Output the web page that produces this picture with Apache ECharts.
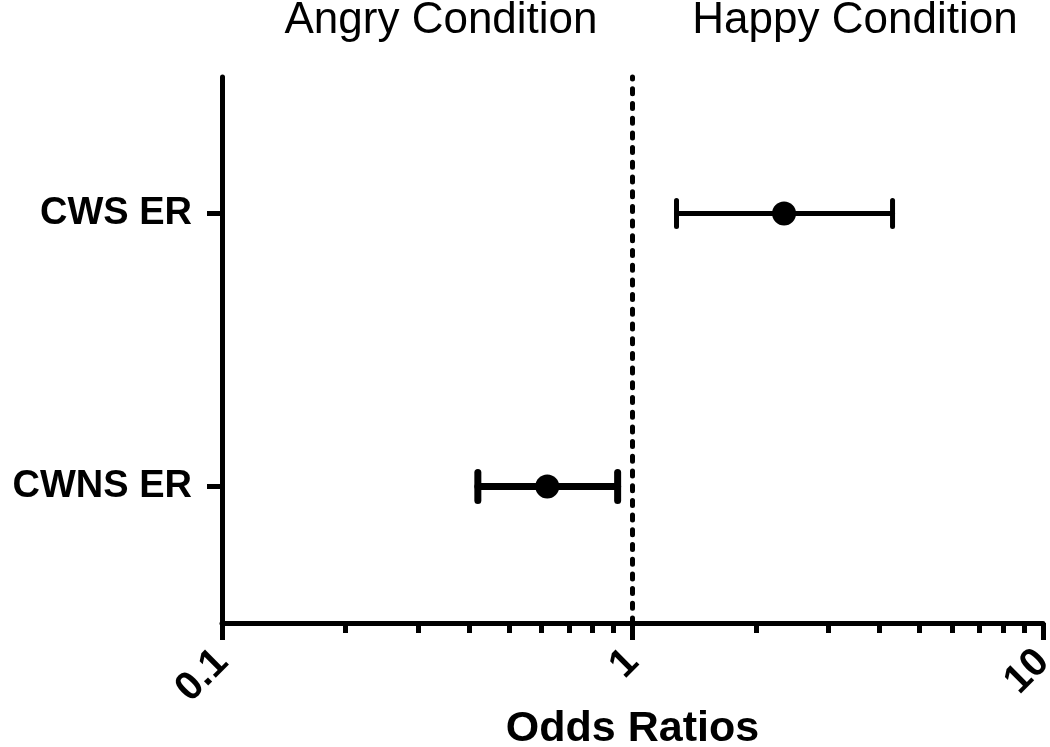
<!DOCTYPE html>
<html>
<head>
<meta charset="utf-8">
<script src="https://cdn.jsdelivr.net/npm/echarts@6/dist/echarts.min.js"></script>
<style>
  html, body { margin: 0; padding: 0; background: #fff; }
  #chart { width: 1050px; height: 747px; }
</style>
</head>
<body>
<div id="chart"></div>
<script>
var chart = echarts.init(document.getElementById('chart'));

// rows, bottom to top
var categories = ['CWNS ER', 'CWS ER'];
var rowPos = [1, 3];
var oddsRatio = [0.62, 2.34];
var ciLow = [0.42, 1.28];
var ciHigh = [0.92, 4.3];
var xTickLabels = ['0.1', '1', '10'];
var regionTitles = ['Angry Condition', 'Happy Condition'];

// whisker thickness per row (CWNS drawn heavier in the original)
var whiskerWidth = [7, 5];
var capHalf = [14, 13];

var FONT = '"Liberation Sans", Arial, sans-serif';

var bars = rowPos.map(function (y, i) {
    return [ciLow[i], ciHigh[i], y, i];
});
var points = rowPos.map(function (y, i) {
    return [oddsRatio[i], y];
});

option = {
    animation: false,
    backgroundColor: '#fff',
    textStyle: { fontFamily: FONT },
    graphic: [
        {
            type: 'text', x: 441, y: 21,
            style: { text: regionTitles[0], font: '44px ' + FONT, fill: '#000', textAlign: 'center', textVerticalAlign: 'middle' }
        },
        {
            type: 'text', x: 855, y: 21,
            style: { text: regionTitles[1], font: '44px ' + FONT, fill: '#000', textAlign: 'center', textVerticalAlign: 'middle' }
        }
    ],
    grid: { left: 222, right: 7, top: 77, bottom: 124, outerBoundsMode: 'none' },
    xAxis: {
        type: 'log',
        logBase: 10,
        min: 0.1,
        max: 10,
        splitLine: { show: false },
        axisLine: { lineStyle: { color: '#000', width: 5 } },
        axisTick: { length: 17, lineStyle: { color: '#000', width: 5 } },
        minorTick: { show: true, splitNumber: 9, length: 10, lineStyle: { color: '#000', width: 5 } },
        axisLabel: {
            rotate: 45,
            margin: 33,
            color: '#000',
            fontSize: 40,
            fontWeight: 'bold',
            fontFamily: FONT,
            formatter: function (v) {
                var k = Math.round(Math.log10(v)) + 1;
                return xTickLabels[k] || '';
            }
        },
        name: 'Odds Ratios',
        nameLocation: 'middle',
        nameGap: 85,
        nameMoveOverlap: false,
        nameTextStyle: { color: '#000', fontSize: 43, fontWeight: 'bold', fontFamily: FONT }
    },
    yAxis: {
        type: 'value',
        min: 0,
        max: 4,
        splitLine: { show: false },
        axisLine: { show: true, lineStyle: { color: '#000', width: 5 } },
        axisTick: { show: true, length: 15, customValues: rowPos, lineStyle: { color: '#000', width: 5 } },
        axisLabel: {
            customValues: rowPos,
            margin: 30,
            color: '#000',
            fontSize: 38,
            fontWeight: 'bold',
            fontFamily: FONT,
            formatter: function (v) {
                var i = rowPos.indexOf(v);
                return i >= 0 ? categories[i] : '';
            }
        }
    },
    series: [
        {
            type: 'custom',
            data: bars,
            encode: { x: [0, 1], y: 2 },
            renderItem: function (params, api) {
                var y = api.value(2);
                var i = api.value(3);
                var a = api.coord([api.value(0), y]);
                var b = api.coord([api.value(1), y]);
                var w = whiskerWidth[i];
                var h = capHalf[i];
                var st = { stroke: '#000', lineWidth: w, lineCap: 'round' };
                return {
                    type: 'group',
                    children: [
                        { type: 'line', shape: { x1: a[0], y1: a[1], x2: b[0], y2: b[1] }, style: st },
                        { type: 'line', shape: { x1: a[0], y1: a[1] - h, x2: a[0], y2: a[1] + h }, style: st },
                        { type: 'line', shape: { x1: b[0], y1: b[1] - h, x2: b[0], y2: b[1] + h }, style: st }
                    ]
                };
            },
            z: 3
        },
        {
            type: 'scatter',
            data: points,
            symbol: 'circle',
            symbolSize: 24,
            itemStyle: { color: '#000', opacity: 1 },
            z: 4,
            markLine: {
                silent: true,
                symbol: ['none', 'none'],
                label: { show: false },
                lineStyle: { color: '#000', width: 5, type: [5, 9.7], cap: 'round' },
                data: [{ xAxis: 1 }]
            }
        }
    ]
};

chart.setOption(option);
</script>
</body>
</html>
